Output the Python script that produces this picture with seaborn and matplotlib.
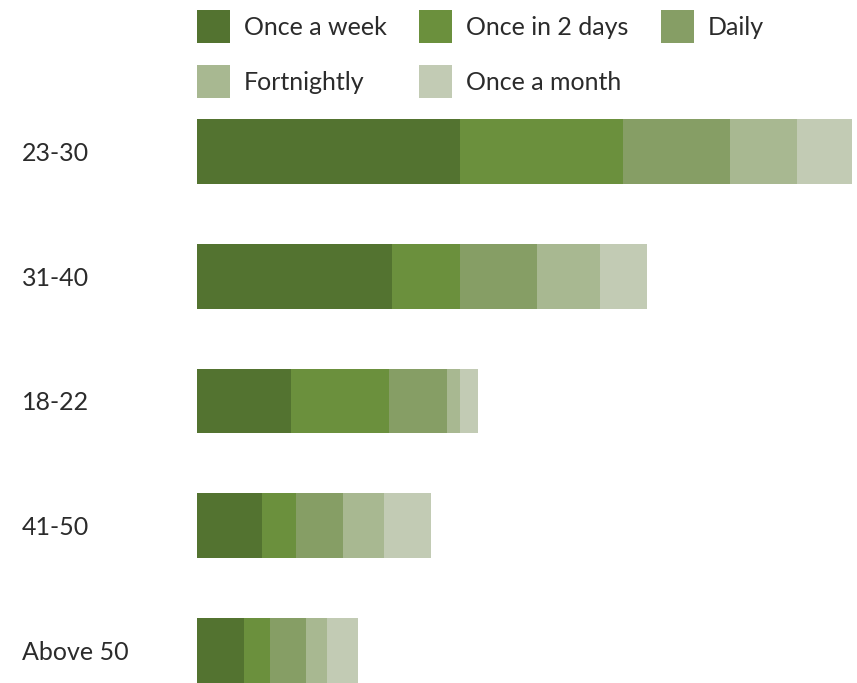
import numpy as np
import pandas as pd
import matplotlib.pyplot as plt
import seaborn as sns

# ================= DATA =================
age_groups = ['23-30', '31-40', '18-22', '41-50', 'Above 50']
frequencies = ['Once a week', 'Once in 2 days', 'Daily', 'Fortnightly', 'Once a month']
once_a_week = [101, 75, 36, 25, 18]
once_in_2_days = [63, 26, 38, 13, 10]
daily = [41, 30, 22, 18, 14]
fortnightly = [26, 24, 5, 16, 8]
once_a_month = [21, 18, 7, 18, 12]
colors = ['#537330', '#6b903d', '#869e65', '#a8b891', '#c2cbb4']

df = pd.DataFrame({'age': age_groups,
                   'Once a week': once_a_week,
                   'Once in 2 days': once_in_2_days,
                   'Daily': daily,
                   'Fortnightly': fortnightly,
                   'Once a month': once_a_month})
# running totals for the stacked look
cum = df[frequencies].cumsum(axis=1)

sns.set_style('white')
plt.rcParams['font.family'] = ['Lato', 'DejaVu Sans']
text_color = '#2b2b2b'
fs = 18

fig = plt.figure(figsize=(8.57, 6.83), dpi=100)
ax = fig.add_axes([197 / 857, 0, 655 / 857, 564 / 683])

# draw the longest (total) first, then overlay the shorter running sums
for i in reversed(range(len(frequencies))):
    sns.barplot(x=cum[frequencies[i]], y=df['age'], color=colors[i], width=0.52,
                label=frequencies[i], orient='h', ax=ax, saturation=1,
                linewidth=0)

ax.set_xlim(0, cum[frequencies[-1]].max())
ax.set_ylim(4.26, -0.26)
ax.set_xlabel('')
ax.set_ylabel('')
ax.set_xticks([])
sns.despine(ax=ax, left=True, bottom=True)
ax.tick_params(axis='y', length=0, pad=126, labelsize=fs, labelcolor=text_color)
for lbl in ax.get_yticklabels():
    lbl.set_ha('left')

# legend: rows of 3 then 2
handles, labels = ax.get_legend_handles_labels()
order = {lab: h for h, lab in zip(handles, labels)}
hs = [order[f] for f in frequencies]
idx = [0, 3, 1, 4, 2]
ax.legend([hs[k] for k in idx], [frequencies[k] for k in idx], ncol=3,
          loc='upper left', bbox_to_anchor=(197 / 857, 1 - 10 / 683),
          bbox_transform=fig.transFigure, frameon=False, fontsize=fs,
          handlelength=1.32, handleheight=1.65, handletextpad=0.56,
          columnspacing=1.3, labelspacing=0.88, borderpad=0, borderaxespad=0,
          labelcolor=text_color)

plt.savefig('out.png', dpi=100)
